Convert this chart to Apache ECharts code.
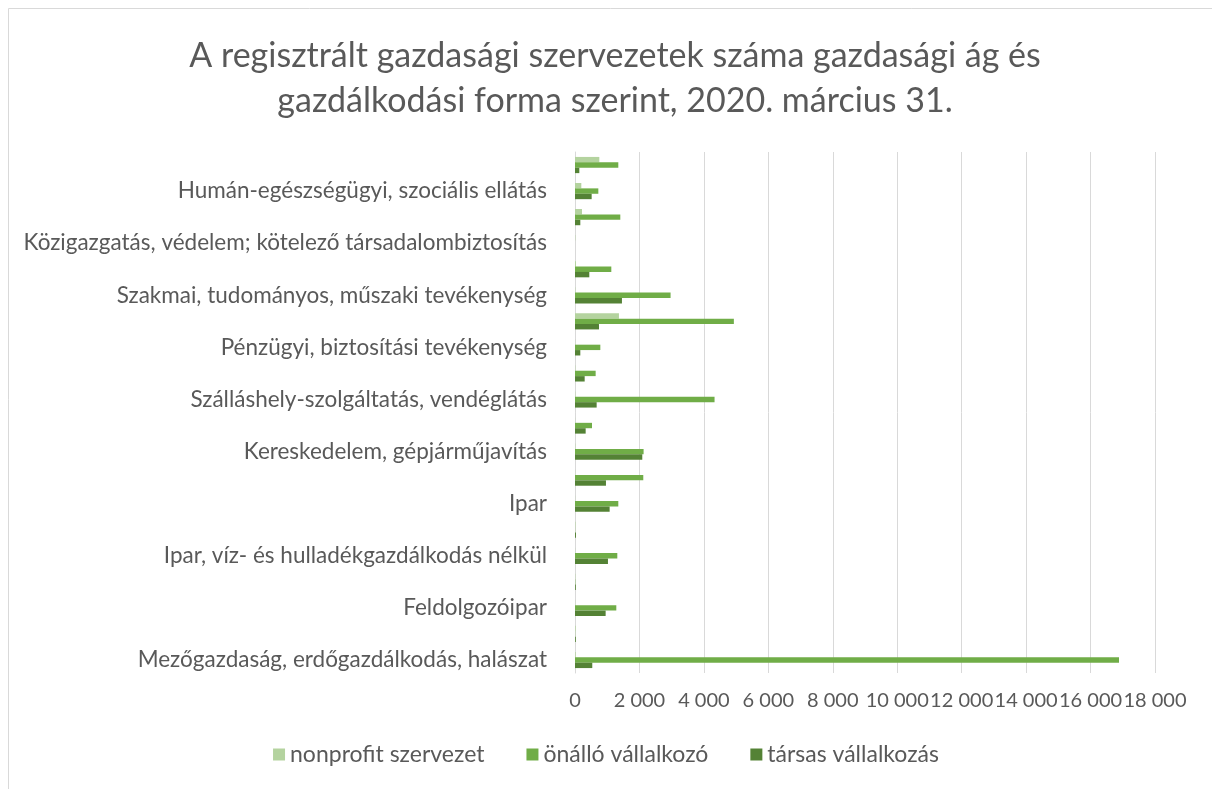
<!DOCTYPE html>
<html>
<head>
<meta charset="utf-8">
<script src="https://cdn.jsdelivr.net/npm/echarts@6/dist/echarts.min.js"></script>
<style>
    html, body { margin: 0; padding: 0; background: #fff; }
    #contain { width: 1212px; height: 789px; }
</style>
</head>
<body>
<div id="contain"></div>
<script>
// kategóriák alulról felfelé
var categories = [
    'Mezőgazdaság, erdőgazdálkodás, halászat',
    'Bányászat, kőfejtés',
    'Feldolgozóipar',
    'Villamosenergia-, gáz-, gőzellátás, légkondicionálás',
    'Ipar, víz- és hulladékgazdálkodás nélkül',
    'Vízellátás; szennyvíz gyűjtése, kezelése, hulladékgazdálkodás',
    'Ipar',
    'Építőipar',
    'Kereskedelem, gépjárműjavítás',
    'Szállítás, raktározás',
    'Szálláshely-szolgáltatás, vendéglátás',
    'Információ, kommunikáció',
    'Pénzügyi, biztosítási tevékenység',
    'Ingatlanügyletek',
    'Szakmai, tudományos, műszaki tevékenység',
    'Adminisztratív és szolgáltatást támogató tevékenység',
    'Közigazgatás, védelem; kötelező társadalombiztosítás',
    'Oktatás',
    'Humán-egészségügyi, szociális ellátás',
    'Művészet, szórakoztatás, szabadidő'
];
var seriesNames = ['nonprofit szervezet', 'önálló vállalkozó', 'társas vállalkozás'];
var nonprofit = [20, 20, 5, 10, 5, 15, 5, 5, 10, 5, 10, 10, 5, 1364, 10, 30, 10, 217, 196, 755];
var onallo = [16883, 5, 1282, 10, 1313, 5, 1344, 2119, 2129, 527, 4331, 641, 786, 4930, 2966, 1127, 0, 1406, 724, 1344];
var tarsas = [536, 25, 951, 25, 1023, 30, 1075, 961, 2088, 331, 672, 300, 165, 744, 1457, 444, 0, 165, 517, 134];
var colors = ['#B4D39F', '#70AD47', '#548235'];

var font = 'Lato, "Open Sans", sans-serif';

function thousands(v) {
    return String(v).replace(/\B(?=(\d{3})+(?!\d))/g, ' ');
}

var myChart = echarts.init(document.getElementById('contain'));
var seriesData = [nonprofit, onallo, tarsas];
var series = [];
for (var i = 0; i < seriesData.length; i++) {
    series.push({
        name: seriesNames[i],
        type: 'bar',
        data: seriesData[i],
        barWidth: 5.4,
        barGap: '0%',
        itemStyle: { color: colors[i] }
    });
}

myChart.setOption({
    animation: false,
    color: colors,
    textStyle: { fontFamily: font },
    graphic: [{
        type: 'rect',
        shape: { x: 8.5, y: 8.5, width: 1300, height: 900 },
        style: { fill: 'none', stroke: '#d9d9d9', lineWidth: 1 },
        silent: true
    }],
    title: {
        text: 'A regisztrált gazdasági szervezetek száma gazdasági ág és\ngazdálkodási forma szerint, 2020. március 31.',
        left: 610,
        textAlign: 'center',
        top: 29,
        textStyle: {
            fontFamily: font,
            fontWeight: 'normal',
            fontSize: 34,
            color: '#595959',
            lineHeight: 45
        }
    },
    legend: {
        data: seriesNames,
        bottom: 18,
        left: 'center',
        itemWidth: 12,
        itemHeight: 12,
        itemGap: 42,
        icon: 'rect',
        textStyle: { fontFamily: font, fontSize: 23, color: '#595959' }
    },
    grid: {
        left: 575,
        right: 57,
        top: 152,
        bottom: 116,
        containLabel: false
    },
    xAxis: {
        type: 'value',
        min: 0,
        max: 18000,
        interval: 2000,
        axisLine: { show: false },
        axisTick: { show: false },
        splitLine: { lineStyle: { color: '#d9d9d9', width: 1 } },
        axisLabel: {
            formatter: thousands,
            hideOverlap: false,
            showMinLabel: true,
            showMaxLabel: true,
            margin: 18,
            fontFamily: font,
            fontSize: 20,
            color: '#595959'
        }
    },
    yAxis: {
        type: 'category',
        data: categories,
        axisLine: { show: true, lineStyle: { color: '#d9d9d9' } },
        axisTick: { show: false },
        axisLabel: {
            interval: 1,
            margin: 28,
            fontFamily: font,
            fontSize: 22.5,
            color: '#595959'
        }
    },
    series: series
});
</script>
</body>
</html>
